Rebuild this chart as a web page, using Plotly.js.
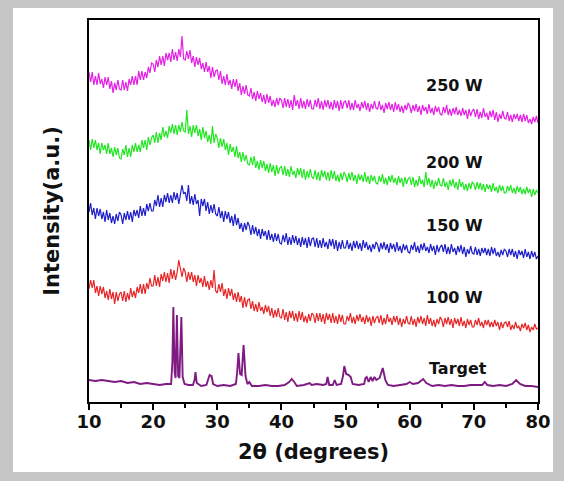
<!DOCTYPE html>
<html>
<head>
<meta charset="utf-8">
<script src="https://cdn.plot.ly/plotly-3.0.1.min.js"></script>
<style>
html,body{margin:0;padding:0;width:564px;height:481px;background:#c6c6c6;overflow:hidden;}
#chart{position:absolute;left:13px;top:8px;width:540px;height:464px;background:#fff;}
</style>
</head>
<body>
<div id="chart"></div>
<script>
// 2θ sampling grid (degrees) for the amorphous patterns
const twoTheta = [
10,10.25,10.5,10.75,11,11.25,11.5,11.75,12,12.25,12.5,12.75,13,13.25,13.5,13.75,14,14.25,14.5,14.75,
15,15.25,15.5,15.75,16,16.25,16.5,16.75,17,17.25,17.5,17.75,18,18.25,18.5,18.75,19,19.25,19.5,19.75,
20,20.25,20.5,20.75,21,21.25,21.5,21.75,22,22.25,22.5,22.75,23,23.25,23.5,23.75,24,24.25,24.5,24.75,
25,25.25,25.5,25.75,26,26.25,26.5,26.75,27,27.25,27.5,27.75,28,28.25,28.5,28.75,29,29.25,29.5,29.75,
30,30.25,30.5,30.75,31,31.25,31.5,31.75,32,32.25,32.5,32.75,33,33.25,33.5,33.75,34,34.25,34.5,34.75,
35,35.25,35.5,35.75,36,36.25,36.5,36.75,37,37.25,37.5,37.75,38,38.25,38.5,38.75,39,39.25,39.5,39.75,
40,40.25,40.5,40.75,41,41.25,41.5,41.75,42,42.25,42.5,42.75,43,43.25,43.5,43.75,44,44.25,44.5,44.75,
45,45.25,45.5,45.75,46,46.25,46.5,46.75,47,47.25,47.5,47.75,48,48.25,48.5,48.75,49,49.25,49.5,49.75,
50,50.25,50.5,50.75,51,51.25,51.5,51.75,52,52.25,52.5,52.75,53,53.25,53.5,53.75,54,54.25,54.5,54.75,
55,55.25,55.5,55.75,56,56.25,56.5,56.75,57,57.25,57.5,57.75,58,58.25,58.5,58.75,59,59.25,59.5,59.75,
60,60.25,60.5,60.75,61,61.25,61.5,61.75,62,62.25,62.5,62.75,63,63.25,63.5,63.75,64,64.25,64.5,64.75,
65,65.25,65.5,65.75,66,66.25,66.5,66.75,67,67.25,67.5,67.75,68,68.25,68.5,68.75,69,69.25,69.5,69.75,
70,70.25,70.5,70.75,71,71.25,71.5,71.75,72,72.25,72.5,72.75,73,73.25,73.5,73.75,74,74.25,74.5,74.75,
75,75.25,75.5,75.75,76,76.25,76.5,76.75,77,77.25,77.5,77.75,78,78.25,78.5,78.75,79,79.25,79.5,79.75,
80];

// stacked intensities (a.u., each pattern offset vertically)
const w250 = [
330,320,330,317,326,317,329,318,323,314,325,317,325,313,321,309,319,312,322,313,
312,322,312,320,311,323,317,326,317,326,317,331,322,331,322,330,324,335,329,339,
338,330,342,335,346,337,346,336,349,342,349,340,353,342,350,341,353,345,366,343,
342,351,343,352,339,346,335,345,337,344,333,339,330,340,330,336,324,335,325,331,
332,322,331,318,326,317,328,317,322,313,323,315,323,311,319,307,316,308,317,307,
306,314,303,310,301,311,303,309,300,307,298,308,299,306,296,302,295,304,297,304,
302,294,304,295,303,294,302,292,307,296,302,293,304,294,301,293,303,295,302,293,
293,302,295,304,293,301,292,302,295,302,293,300,292,302,294,301,291,302,293,300,
301,294,302,292,299,292,302,294,298,291,300,294,301,292,299,290,298,293,301,294,
293,301,292,297,289,299,293,300,292,298,290,300,292,298,290,296,289,297,292,299,
296,289,297,291,298,290,296,287,297,291,295,288,298,289,294,287,296,290,295,288,
287,295,289,297,287,293,286,294,288,295,287,292,286,294,287,292,283,293,286,291,
293,285,293,283,290,284,294,285,289,282,291,285,292,282,290,280,288,283,291,284,
283,290,281,287,280,288,283,288,281,287,280,288,281,287,279,283,278,285,280,286,
279];

const w200 = [
262,252,263,254,262,252,259,248,259,252,257,248,259,248,254,245,255,247,254,244,
243,253,247,257,245,254,245,257,250,259,250,257,250,262,254,262,252,265,257,264,
267,259,270,259,269,262,275,265,271,264,276,269,278,268,277,267,277,270,280,271,
270,292,268,276,265,277,269,277,266,273,262,275,264,271,260,267,258,276,259,268,
264,254,264,255,263,252,259,247,258,250,255,245,256,244,250,240,250,241,247,238,
237,245,237,246,234,241,232,242,234,241,231,238,229,239,230,237,226,237,228,234,
236,227,236,226,233,225,236,227,231,224,234,227,234,224,233,222,231,224,233,225,
223,232,222,230,221,232,225,231,222,230,221,232,223,231,221,227,220,229,222,230,
227,220,229,222,230,221,227,218,228,222,227,220,230,220,226,218,227,221,226,219,
218,226,220,228,218,224,217,226,220,227,219,224,217,226,219,224,215,225,218,223,
225,217,225,215,222,216,226,218,222,215,230,217,224,215,222,213,221,216,224,217,
216,224,215,220,212,222,216,223,214,220,212,223,215,220,212,218,211,219,213,220,
218,212,220,213,219,212,218,210,218,213,217,210,219,211,215,209,217,211,216,209,
209,216,211,217,209,214,208,216,210,215,208,213,208,215,209,213,205,213,207,212,
209];

const w150 = [
190,199,187,194,183,194,186,193,183,190,180,192,182,189,179,186,178,188,181,190,
187,178,189,182,191,182,190,180,192,186,192,184,196,186,194,186,198,191,199,191,
191,202,196,207,195,204,195,207,200,209,199,207,199,210,202,209,198,210,217,208,
210,201,217,198,206,197,208,198,202,186,203,196,203,191,200,188,197,189,198,188,
186,195,184,191,180,191,183,190,179,186,176,188,177,184,173,179,170,179,172,180,
176,167,177,168,175,166,173,163,173,166,171,162,172,162,168,160,169,161,168,159,
158,167,160,169,157,165,157,167,159,166,157,164,155,165,157,164,154,165,156,163,
164,155,164,154,162,154,164,155,160,153,163,156,163,153,162,151,160,153,162,154,
154,162,153,159,151,161,154,161,153,159,151,162,154,160,152,157,150,158,153,160,
157,150,159,153,160,152,158,149,159,153,158,150,160,151,156,149,158,152,157,150,
149,157,152,160,150,156,149,158,152,159,151,155,149,158,151,156,147,157,150,155,
157,150,158,148,155,148,158,150,154,147,156,150,157,148,155,145,153,148,156,149,
148,155,147,153,146,154,149,154,147,153,146,155,148,154,146,150,145,152,147,153,
151,145,153,147,153,145,151,143,152,147,151,144,153,145,150,143,151,145,150,143,
146];

const w100 = [
113,122,114,122,109,116,106,116,108,115,104,111,102,113,103,110,98,110,101,108,
110,101,111,100,109,102,114,105,111,104,115,109,118,108,118,108,119,113,124,116,
116,127,116,125,115,128,121,130,120,129,119,133,123,132,122,130,142,133,125,134,
130,120,130,122,130,120,127,116,127,119,124,115,126,115,121,112,122,114,132,111,
109,118,110,119,106,113,103,114,106,113,102,109,100,110,100,106,94,105,95,102,
103,93,101,91,98,90,100,91,95,88,97,90,96,86,94,84,92,85,94,85,
84,93,82,90,80,91,84,91,81,89,80,91,82,90,80,86,79,88,81,89,
87,79,89,81,89,80,88,78,89,82,88,79,89,79,86,78,88,80,87,78,
78,86,81,89,79,85,78,87,81,88,80,85,78,87,80,85,76,86,79,84,
86,79,87,77,84,78,88,80,84,77,86,80,86,77,84,75,83,78,86,79,
78,86,77,83,75,85,79,86,78,84,76,87,78,84,76,82,75,83,78,85,
82,75,84,78,85,77,83,74,84,78,83,76,85,76,81,74,83,77,82,75,
75,82,77,84,76,80,74,82,77,82,75,80,75,82,76,80,72,80,74,79,
80,75,81,72,77,73,80,74,76,71,78,74,79,72,77,70,75,72,78,73,
74];

// Target (crystalline reference) pattern
const targetTheta = [
10,11,12,13,14,15,16,17,18,19,20,21,22,22.8,23.0,23.15,23.35,23.5,23.7,23.9,
24.1,24.4,24.6,24.9,25.5,26.2,26.45,26.6,26.8,27.5,28.3,28.6,28.8,29.1,29.35,30,31,32,32.9,33.1,
33.3,33.55,33.8,34.1,34.4,34.7,35.0,35.4,36.5,37.5,38.5,39.5,40.5,41.2,41.6,42.0,42.4,43.5,44.2,44.4,
44.7,45.5,46.5,47.0,47.2,47.45,48.0,48.3,48.6,49.3,49.6,49.8,50.1,50.5,50.8,51.1,52,52.9,53.1,53.3,
53.6,53.9,54.2,54.5,54.8,55.3,55.8,56.2,56.6,57.5,58.5,59.5,60,60.5,61.3,62.1,62.6,63.5,64.5,65.5,
66.5,67.5,68.5,69.5,70.5,71.3,71.7,72.1,73,74,75,76,76.6,77.2,78,79,80];
const targetInt = [
22,21,22,21,20,21,19,20,18,19,18,17,18,18,40,95,30,24,87,26,
24,85,25,18,17,17,22,30,19,16,17,22,27,26,18,16,17,16,18,30,
49,28,27,57,26,18,20,16,16,17,16,16,17,20,23,20,16,17,18,19,
17,18,17,18,25,17,17,22,17,18,26,36,28,27,25,18,17,18,24,25,
20,25,21,25,22,24,34,22,17,16,17,18,20,18,19,23,19,16,17,16,
17,16,16,17,17,17,20,17,16,17,16,18,22,18,16,16,15];

const seriesNames = ['250 W','200 W','150 W','100 W','Target'];
const seriesColors = ['#e41fe4','#22e622','#1e1ec8','#e62626','#7e1a82'];
const labelY = [317,240,177,105,34];

const font = 'DejaVu Sans, Arial, sans-serif';
const ys = [w250,w200,w150,w100];
const traces = ys.map((y,i)=>({
  x: twoTheta, y: y, type:'scatter', mode:'lines', name: seriesNames[i],
  line:{color: seriesColors[i], width:1.2}, hoverinfo:'skip'
}));
traces.push({x: targetTheta, y: targetInt, type:'scatter', mode:'lines', name:'Target',
  line:{color: seriesColors[4], width:1.9}, hoverinfo:'skip'});

const annotations = seriesNames.map((t,i)=>({
  x: i===4 ? 62.7 : 62.2, y: labelY[i], xref:'x', yref:'y', text: t, showarrow:false,
  xanchor:'left', yanchor:'middle',
  font:{family: font, size:16, color:'#111', weight:'bold'}
}));

const layout = {
  width:540, height:464,
  margin:{l:76, r:15, t:12, b:70},
  paper_bgcolor:'#ffffff', plot_bgcolor:'#ffffff',
  showlegend:false,
  xaxis:{
    range:[10,80], dtick:10, tick0:10,
    ticks:'outside', ticklen:6, tickwidth:2, tickcolor:'#000',
    minor:{dtick:5, tick0:10, ticks:'outside', ticklen:4, tickwidth:2, tickcolor:'#000'},
    showline:true, linewidth:2, linecolor:'#000', mirror:true,
    showgrid:false, zeroline:false,
    ticklabelstandoff:-4,
    tickfont:{family: font, size:18, color:'#111', weight:'bold'},
    title:{text:'2θ (degrees)', font:{family: font, size:21, color:'#111', weight:'bold'}, standoff:14}
  },
  yaxis:{
    range:[0,382], showticklabels:false, ticks:'',
    showline:true, linewidth:2, linecolor:'#000', mirror:true,
    showgrid:false, zeroline:false,
    title:{text:'Intensity(a.u.)', font:{family: font, size:21, color:'#111', weight:'bold'}, standoff:22}
  },
  annotations: annotations
};

Plotly.newPlot('chart', traces, layout, {displayModeBar:false, staticPlot:true});
</script>
</body>
</html>
